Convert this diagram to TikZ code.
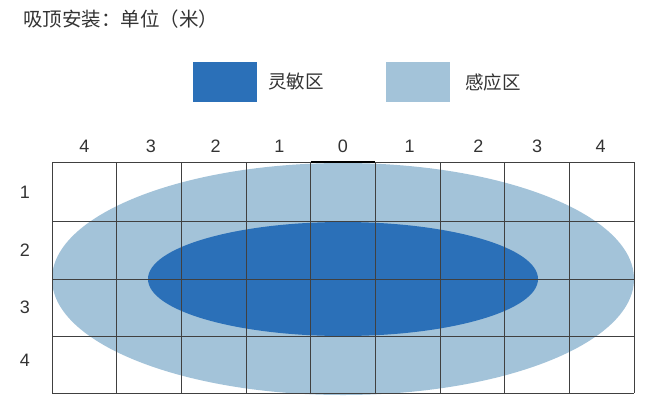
\documentclass[tikz,border=0pt]{standalone}
\usepackage{fontspec}
\setmainfont{Liberation Sans}
\newfontfamily\cjk{Noto Sans CJK SC}
\definecolor{darkzone}{HTML}{2B70B8}
\definecolor{lightzone}{HTML}{A3C3D9}
\definecolor{gridcol}{HTML}{404040}
\definecolor{txt}{HTML}{333333}
\begin{document}
\begin{tikzpicture}[x=1pt,y=-1pt,
  lbl/.style={text=txt,font=\fontsize{18}{18}\selectfont,inner sep=0pt},
  cjklbl/.style={text=txt,font=\cjk\fontsize{18.5}{18.5}\selectfont,inner sep=0pt},
  gridline/.style={draw=gridcol,line width=0.8pt}]
\useasboundingbox (0,0) rectangle (653,410);
% title
\node[cjklbl,anchor=west,font=\cjk\fontsize{19.5}{19.5}\selectfont] (title) at (23,19) {吸顶安装：单位（米）};
% legend
\node[fill=darkzone,minimum width=64pt,minimum height=40pt,inner sep=0pt,anchor=north west] (legdark) at (193,62) {};
\node[cjklbl,anchor=west] (legdarktxt) at (268,82) {灵敏区};
\node[fill=lightzone,minimum width=64pt,minimum height=40pt,inner sep=0pt,anchor=north west] (leglight) at (386,62) {};
\node[cjklbl,anchor=west] (leglighttxt) at (465,82) {感应区};
% zones
\fill[lightzone] (343,279) ellipse [x radius=291, y radius=116];
\fill[darkzone] (343,279) ellipse [x radius=195, y radius=57];
% grid
\foreach \x in {52,116.7,181.3,246,310.7,375.3,440,504.7,569.3,634}
  \draw[gridline] (\x,162) -- (\x,393);
\foreach \y in {162,221.5,279,336.5,393}
  \draw[gridline] (52,\y) -- (634,\y);
\draw[black,line width=2.2pt] (310.7,162) -- (375.3,162);
% column labels
\foreach \n/\x in {4/84.3,3/151,2/215.7,1/279.3,0/343,1/409.7,2/478.3,3/537,4/600.7}
  \node[lbl] at (\x,146) {\n};
% row labels
\foreach \n/\y in {1/192,2/250,3/307,4/360}
  \node[lbl] at (25,\y) {\n};
\end{tikzpicture}
\end{document}
